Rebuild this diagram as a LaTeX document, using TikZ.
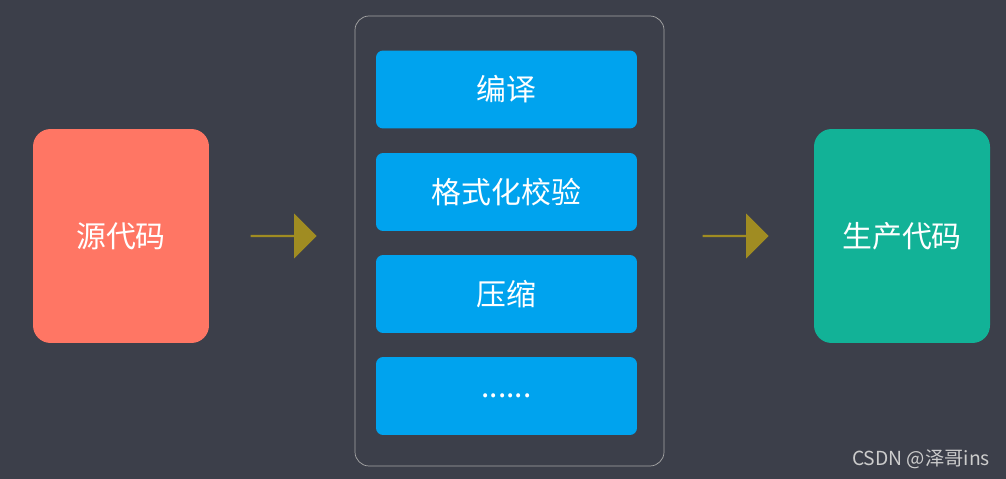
\documentclass[tikz,border=0pt]{standalone}
\usepackage{fontspec}
\setmainfont{Noto Sans CJK SC}
\usetikzlibrary{positioning,shapes.arrows}
\definecolor{bgcol}{HTML}{3C3F4A}
\definecolor{srccol}{HTML}{FF7664}
\definecolor{stepcol}{HTML}{00A3EE}
\definecolor{prodcol}{HTML}{12B297}
\definecolor{arrcol}{HTML}{A08C22}
\begin{document}
\begin{tikzpicture}
        [x=0.02cm,y=-0.02cm,
         every node/.style={text=white,font=\fontsize{17}{20}\selectfont},
         bigbox/.style={rounded corners=10pt,minimum width=3.52cm,minimum height=4.28cm},
         stepbox/.style={fill=stepcol,rounded corners=4pt,minimum width=5.22cm,minimum height=1.56cm},
         flow/.style={single arrow,fill=arrcol,minimum height=1.32cm,single arrow head extend=0.12cm,minimum width=0.9cm,inner sep=0pt}]

        \fill[bgcol] (0,0) rectangle (1006,479);
        \useasboundingbox (0,0) rectangle (1006,479);

        \node[bigbox,fill=srccol] (src) at (121,236) {源代码};
        \node[bigbox,fill=prodcol] (prod) at (902,236) {生产代码};

        \draw[gray!70,rounded corners=8pt] (355,16) rectangle (664,466);
        \node[stepbox] (s1) at (506.5,89.5) {编译};
        \node[stepbox] (s2) at (506.5,192) {格式化校验};
        \node[stepbox] (s3) at (506.5,294) {压缩};
        \node[stepbox] (s4) at (506.5,396) {......};

        \node[flow] (a1) at (283,236) {};
        \node[flow] (a2) at (735,236) {};

        \node[text=gray!40,font=\fontsize{11}{13}\selectfont] (mark) at (921,459) {CSDN @泽哥ins};
      \end{tikzpicture}
\end{document}
